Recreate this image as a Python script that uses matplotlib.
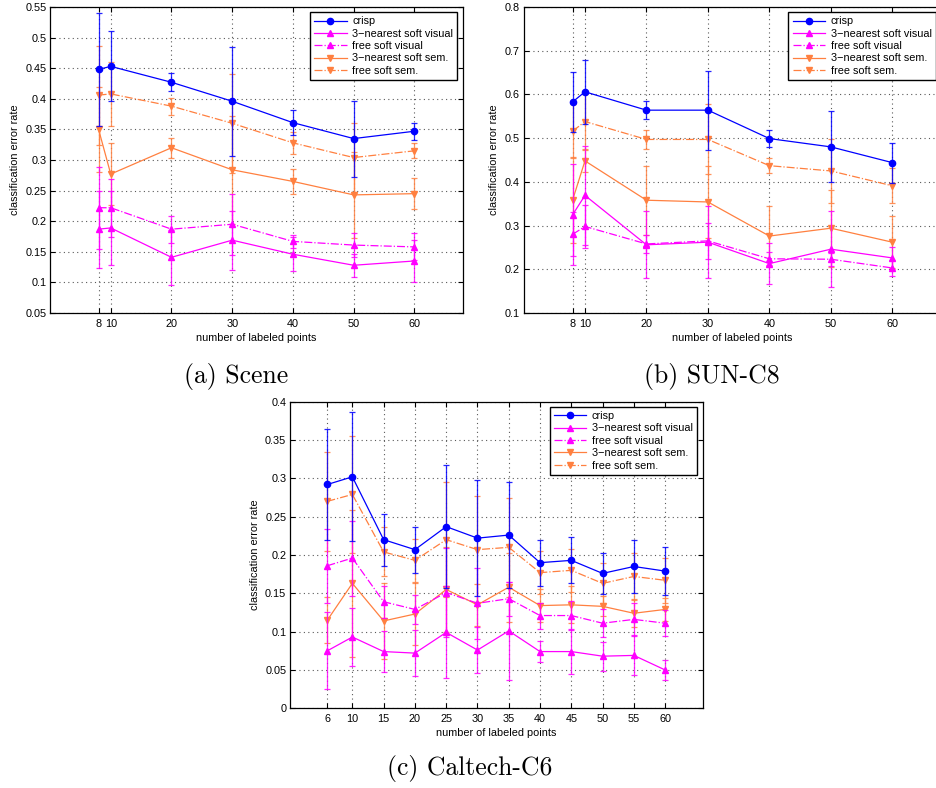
import matplotlib
matplotlib.use('Agg')
import matplotlib.pyplot as plt
from matplotlib.ticker import FuncFormatter
import numpy as np

plt.rcParams['font.family'] = ['Liberation Sans', 'DejaVu Sans']
plt.rcParams['font.size'] = 7.8
plt.rcParams['lines.linewidth'] = 0.9

labels = ['crisp', '3\u2212nearest soft visual', 'free soft visual',
          '3\u2212nearest soft sem.', 'free soft sem.']

# (a) Scene
scene_x = [8, 10, 20, 30, 40, 50, 60]
scene_crisp = [0.448, 0.453, 0.427, 0.396, 0.361, 0.335, 0.347]
scene_crisp_err = [0.093, 0.057, 0.015, 0.089, 0.020, 0.062, 0.014]
scene_near_vis = [0.187, 0.189, 0.141, 0.169, 0.146, 0.128, 0.135]
scene_near_vis_err = [0.063, 0.060, 0.045, 0.048, 0.028, 0.019, 0.035]
scene_free_vis = [0.222, 0.222, 0.187, 0.195, 0.167, 0.161, 0.158]
scene_free_vis_err = [0.067, 0.047, 0.022, 0.050, 0.011, 0.020, 0.022]
scene_near_sem = [0.350, 0.277, 0.320, 0.284, 0.265, 0.243, 0.245]
scene_near_sem_err = [0.070, 0.050, 0.016, 0.088, 0.020, 0.070, 0.025]
scene_free_sem = [0.406, 0.408, 0.388, 0.360, 0.328, 0.304, 0.315]
scene_free_sem_err = [0.081, 0.052, 0.014, 0.081, 0.018, 0.056, 0.012]

# (b) SUN-C8
sun_x = [8, 10, 20, 30, 40, 50, 60]
sun_crisp = [0.583, 0.606, 0.564, 0.564, 0.499, 0.480, 0.444]
sun_crisp_err = [0.069, 0.073, 0.020, 0.090, 0.019, 0.081, 0.046]
sun_near_vis = [0.325, 0.369, 0.256, 0.262, 0.213, 0.246, 0.226]
sun_near_vis_err = [0.116, 0.114, 0.077, 0.083, 0.047, 0.087, 0.025]
sun_free_vis = [0.280, 0.298, 0.258, 0.265, 0.224, 0.223, 0.203]
sun_free_vis_err = [0.050, 0.050, 0.020, 0.042, 0.015, 0.015, 0.018]
sun_near_sem = [0.359, 0.448, 0.358, 0.354, 0.276, 0.294, 0.262]
sun_near_sem_err = [0.098, 0.025, 0.079, 0.083, 0.068, 0.088, 0.059]
sun_free_sem = [0.516, 0.538, 0.497, 0.497, 0.437, 0.425, 0.391]
sun_free_sem_err = [0.062, 0.063, 0.022, 0.080, 0.017, 0.073, 0.040]

# (c) Caltech-C6
cal_x = [6, 10, 15, 20, 25, 30, 35, 40, 45, 50, 55, 60]
cal_crisp = [0.292, 0.302, 0.220, 0.207, 0.237, 0.222, 0.226, 0.190, 0.193, 0.176, 0.185, 0.179]
cal_crisp_err = [0.072, 0.084, 0.034, 0.030, 0.080, 0.076, 0.069, 0.030, 0.030, 0.027, 0.034, 0.031]
cal_near_vis = [0.075, 0.093, 0.074, 0.072, 0.099, 0.076, 0.101, 0.074, 0.074, 0.068, 0.069, 0.050]
cal_near_vis_err = [0.050, 0.038, 0.027, 0.030, 0.060, 0.030, 0.064, 0.014, 0.029, 0.019, 0.026, 0.013]
cal_free_vis = [0.186, 0.196, 0.139, 0.129, 0.151, 0.137, 0.143, 0.121, 0.121, 0.111, 0.116, 0.111]
cal_free_vis_err = [0.048, 0.049, 0.021, 0.019, 0.058, 0.046, 0.022, 0.017, 0.019, 0.018, 0.022, 0.017]
cal_near_sem = [0.115, 0.163, 0.114, 0.123, 0.155, 0.135, 0.158, 0.134, 0.135, 0.133, 0.124, 0.129]
cal_near_sem_err = [0.030, 0.096, 0.050, 0.040, 0.055, 0.027, 0.045, 0.022, 0.024, 0.013, 0.018, 0.015]
cal_free_sem = [0.270, 0.279, 0.204, 0.193, 0.220, 0.207, 0.210, 0.177, 0.180, 0.163, 0.172, 0.167]
cal_free_sem_err = [0.065, 0.076, 0.032, 0.028, 0.075, 0.070, 0.065, 0.028, 0.028, 0.026, 0.031, 0.029]

colors = ['#0000ff', '#ff00ff', '#ff00ff', '#ff8040', '#ff8040']
styles = ['-', '-', '-.', '-', '-.']
markers = ['o', '^', '^', 'v', 'v']
zorders = [7, 5, 6, 3, 4]


def draw_panel(ax, x, means, errs, xlim, ylim, yticks):
    for i in range(5):
        c = colors[i]
        ax.errorbar(x, means[i], yerr=errs[i], fmt='none', ecolor=c,
                    elinewidth=0.9, capsize=2.4, capthick=0.9, alpha=0.85,
                    zorder=zorders[i])
        ax.plot(x, means[i], styles[i], marker=markers[i], color=c, ms=4.5,
                label=labels[i], zorder=zorders[i] + 0.5)
    ax.set_xlim(xlim)
    ax.set_ylim(ylim)
    ax.set_xticks(x)
    ax.set_yticks(yticks)
    ax.yaxis.set_major_formatter(FuncFormatter(lambda v, p: f'{v:g}'))
    ax.grid(True, linestyle=(0, (1, 3)), color='0.35', linewidth=0.8)
    ax.tick_params(direction='in', top=True, right=True, length=3.5, width=0.8)
    ax.tick_params(axis='x', pad=4)
    ax.tick_params(axis='y', pad=2.5)
    for s in ax.spines.values():
        s.set_linewidth(0.9)
    ax.set_xlabel('number of labeled points', labelpad=3)
    ax.set_ylabel('classification error rate', labelpad=4)
    w = ax.get_position().width * 936
    h = ax.get_position().height * 788
    leg = ax.legend(loc='upper right', bbox_to_anchor=(1 - 5.5 / w, 1 - 5 / h),
                    borderaxespad=0, fancybox=False, edgecolor='black',
                    framealpha=1, handlelength=3.0, labelspacing=0.22,
                    borderpad=0.4, handletextpad=0.5)
    leg.get_frame().set_linewidth(1.0)
    leg.set_zorder(20)


fig = plt.figure(figsize=(9.36, 7.88), dpi=100)

ax_a = fig.add_axes([50 / 936, 1 - 313 / 788, 413 / 936, 306 / 788])
draw_panel(ax_a, scene_x,
           [scene_crisp, scene_near_vis, scene_free_vis, scene_near_sem, scene_free_sem],
           [scene_crisp_err, scene_near_vis_err, scene_free_vis_err, scene_near_sem_err, scene_free_sem_err],
           (0, 68), (0.05, 0.55), np.round(np.arange(0.05, 0.551, 0.05), 2))

ax_b = fig.add_axes([523.5 / 936, 1 - 313 / 788, 418 / 936, 306 / 788])
draw_panel(ax_b, sun_x,
           [sun_crisp, sun_near_vis, sun_free_vis, sun_near_sem, sun_free_sem],
           [sun_crisp_err, sun_near_vis_err, sun_free_vis_err, sun_near_sem_err, sun_free_sem_err],
           (0, 68), (0.1, 0.8), np.round(np.arange(0.1, 0.801, 0.1), 1))

ax_c = fig.add_axes([289.8 / 936, 1 - 708.3 / 788, 412.9 / 936, 306.6 / 788])
draw_panel(ax_c, cal_x,
           [cal_crisp, cal_near_vis, cal_free_vis, cal_near_sem, cal_free_sem],
           [cal_crisp_err, cal_near_vis_err, cal_free_vis_err, cal_near_sem_err, cal_free_sem_err],
           (0, 66), (0, 0.4), np.round(np.arange(0, 0.401, 0.05), 2))

fig.text(236 / 936, 1 - 377 / 788, '(a) Scene', family='cmr10', fontsize=18.5,
         ha='center', va='center')
fig.text(712 / 936, 1 - 377 / 788, '(b) SUN-C8', family='cmr10', fontsize=18.5,
         ha='center', va='center')
fig.text(470 / 936, 1 - 768 / 788, '(c) Caltech-C6', family='cmr10', fontsize=18.5,
         ha='center', va='center')

fig.savefig('out.png', dpi=100)
